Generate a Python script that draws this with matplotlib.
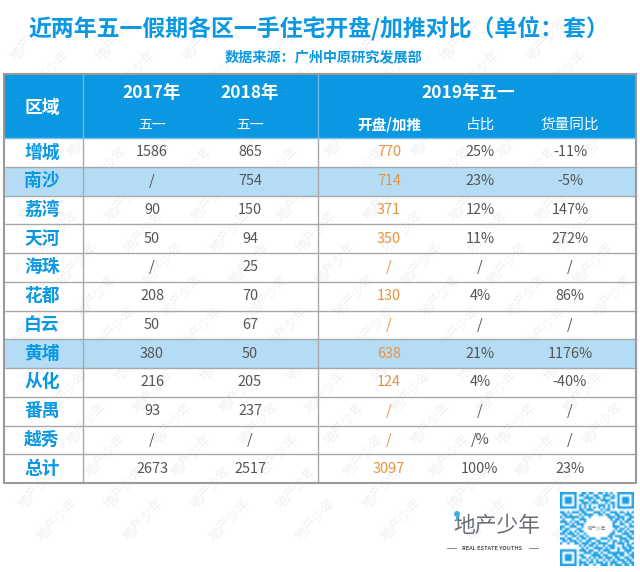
import matplotlib
matplotlib.use('Agg')
import matplotlib.pyplot as plt
from matplotlib.colors import LinearSegmentedColormap
from matplotlib.patches import Circle, Rectangle

plt.rcParams['font.family'] = ['Noto Sans CJK SC', 'DejaVu Sans']

title = '近两年五一假期各区一手住宅开盘/加推对比（单位：套）'
source = '数据来源：广州中原研究发展部'
districts = ['增城', '南沙', '荔湾', '天河', '海珠', '花都', '白云', '黄埔', '从化', '番禺', '越秀', '总计']
may_2017 = ['1586', '/', '90', '50', '/', '208', '50', '380', '216', '93', '/', '2673']
may_2018 = ['865', '754', '150', '94', '25', '70', '67', '50', '205', '237', '/', '2517']
may_2019 = ['770', '714', '371', '350', '/', '130', '/', '638', '124', '/', '/', '3097']
share = ['25%', '23%', '12%', '11%', '/', '4%', '/', '21%', '4%', '/', '/%', '100%']
yoy = ['-11%', '-5%', '147%', '272%', '/', '86%', '/', '1176%', '-40%', '/', '/', '23%']
highlighted = ['南沙', '黄埔']

qr_rows = [
    '1111111001101100110101001111111',
    '1000001011010011001110101000001',
    '1011101000111101101001101011101',
    '1011101011001010011110001011101',
    '1011101001110111000101101011101',
    '1000001010101000111010101000001',
    '1111111010101010101010101111111',
    '0000000011011100010110000000000',
    '1101011101100011101001110110101',
    '0110100010111100110110011001110',
    '1011111101001000000011101110011',
    '0100010011100000000001011010110',
    '1110101100100000000000110101101',
    '0011010111000000000000100110010',
    '1100111001000000000000111001011',
    '1011000110000000000000010110100',
    '0110101011000000000000101101011',
    '1101110100100000000001100011101',
    '0010011011010000000011011100110',
    '1101100101101110011101000111011',
    '0110111010011001100010110101100',
    '1001001101110110111100101110101',
    '0000000010101101001011100010110',
    '0000000001010011110101101011011',
    '1111111011101100101110001001110',
    '1000001000111011010011111110101',
    '1011101011000111101100110110011',
    '1011101001101010110111011001101',
    '1011101010010101001010101110110',
    '1000001011101101110101110011011',
    '1111111010110010011101011101101',
]

blue = '#0A98E2'
pale = '#B4DDF5'
grey = '#555555'
orange = '#E9923F'
line = '#A9A9A9'

fig = plt.figure(figsize=(6.4, 5.72), dpi=100)
ax = fig.add_axes([0, 0, 1, 1])

left, col1, col3, right = 3.5, 82.5, 317.5, 636
top, head_bottom, bottom = 74, 138, 483
row_h = (bottom - head_bottom) / len(districts)
col_x = [152, 250, 389, 480, 570]

# qr code first, imshow resets the limits
qr = [[0.0 if ch == '1' else 1.0 for ch in row] for row in qr_rows]
qr_cmap = LinearSegmentedColormap.from_list('qr', ['#1EA0E6', '#FFFFFF'])
ax.imshow(qr, cmap=qr_cmap, extent=(560, 634, 566, 492), interpolation='bilinear', zorder=4, aspect='auto')
ax.set_xlim(0, 640)
ax.set_ylim(572, 0)
ax.axis('off')
ax.text(597, 529, '地产少年', fontsize=3.5, color='#777777', ha='center', va='center', zorder=5)

# watermark sits under the header and highlighted rows
for r in range(0, 18):
    for c in range(-1, 9):
        x = c * 86 + (r * 19) % 86 + 12
        y = r * 32 + 8
        if x < 24 or x > 616 or y < 24 or y > 548:
            continue
        ax.text(x, y, '地产少年', fontsize=9.5, color='#F1F1F1', rotation=46, ha='center', va='center', zorder=0)

ax.add_patch(Rectangle((left, top), right - left, head_bottom - top, color=blue, lw=0, zorder=1))
for i, name in enumerate(districts):
    if name in highlighted:
        ax.add_patch(Rectangle((left, head_bottom + i * row_h), right - left, row_h, color=pale, lw=0, zorder=1))

# grid lines
for i in range(1, len(districts)):
    y = head_bottom + i * row_h
    ax.plot([left, right], [y, y], color=line, lw=1, zorder=3)
ax.plot([col1, col1], [top, head_bottom], color='#6FB8E4', lw=1, zorder=3)
ax.plot([col3, col3], [top, head_bottom], color='#6FB8E4', lw=1, zorder=3)
ax.plot([col1, col1], [head_bottom, bottom], color=line, lw=1, zorder=3)
ax.plot([col3, col3], [head_bottom, bottom], color=line, lw=1, zorder=3)
ax.add_patch(Rectangle((left, top), right - left, bottom - top, fill=False, ec='#9A9A9A', lw=1.5, zorder=3))
ax.plot([left, right], [head_bottom, head_bottom], color='#7FBFE6', lw=1, zorder=3)

# title block
ax.text(318.5, 28, title, fontsize=16.5, fontweight='bold', color=blue, ha='center', va='center', zorder=4)
ax.text(324, 57, source, fontsize=10.2, fontweight='bold', color=blue, ha='center', va='center', zorder=4)

# header text
head = dict(color='white', ha='center', va='center', zorder=4)
ax.text(42, 108, '区域', fontsize=12.8, fontweight='bold', **head)
ax.text(col_x[0], 93, '2017年', fontsize=12.5, fontweight='bold', **head)
ax.text(col_x[1], 93, '2018年', fontsize=12.5, fontweight='bold', **head)
ax.text(468, 93, '2019年五一', fontsize=12.6, fontweight='bold', **head)
ax.text(col_x[0], 125, '五一', fontsize=10, **head)
ax.text(col_x[1], 125, '五一', fontsize=10, **head)
ax.text(col_x[2], 124, '开盘/加推', fontsize=10.5, fontweight='bold', **head)
ax.text(col_x[3], 125, '占比', fontsize=10.5, **head)
ax.text(col_x[4], 125, '货量同比', fontsize=10.5, **head)

# body
columns = [may_2017, may_2018, may_2019, share, yoy]
for i, name in enumerate(districts):
    y = head_bottom + (i + 0.5) * row_h
    ax.text(42, y, name, fontsize=12.8, fontweight='bold', color=blue, ha='center', va='center', zorder=4)
    for j, values in enumerate(columns):
        ax.text(col_x[j], y, values[i], fontsize=10.4, color=orange if j == 2 else grey,
                ha='center', va='center', zorder=4)

# logo
ax.text(497, 526, '地产少年', fontsize=15.7, color='#6A6F75', ha='center', va='center', zorder=4)
ax.plot([447, 456], [548, 548], color='#777777', lw=0.6, zorder=4)
ax.plot([529, 538], [548, 548], color='#777777', lw=0.6, zorder=4)
ax.text(492, 548, 'REAL ESTATE YOUTHS', fontsize=4, color='#555555', style='italic',
        fontweight='bold', ha='center', va='center', zorder=4)
ax.add_patch(Circle((457, 514), 3, color='#3FAEE8', lw=0, zorder=5))
ax.add_patch(Rectangle((456, 514), 2, 7, color='#3FAEE8', lw=0, zorder=5))

fig.savefig('out.png', dpi=100)
